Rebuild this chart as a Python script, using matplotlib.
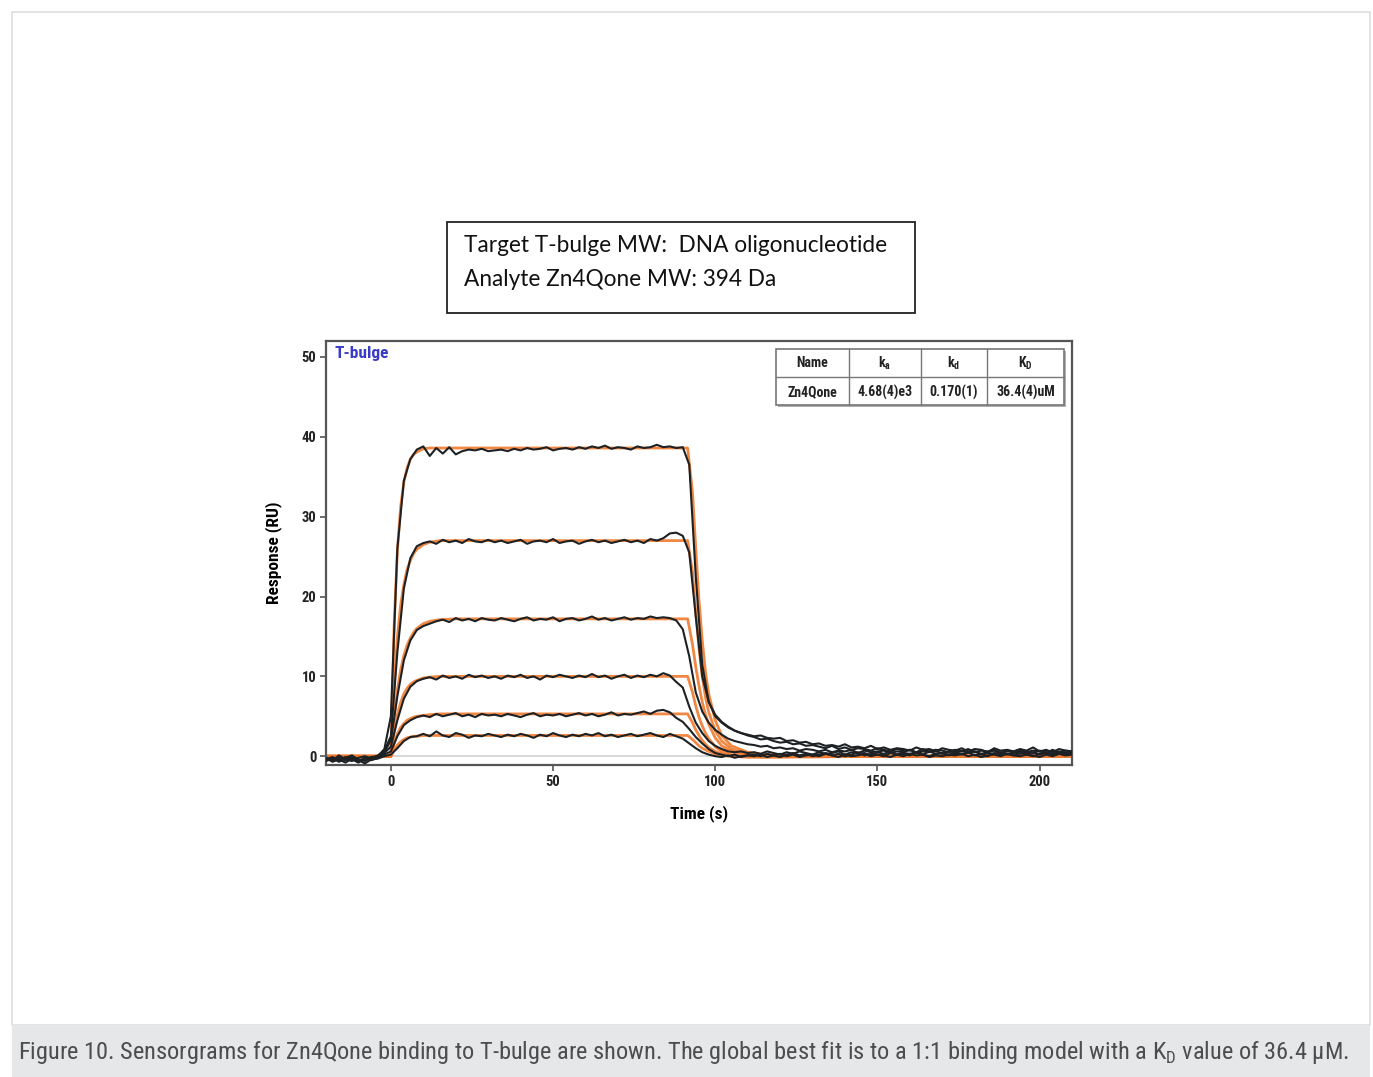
import numpy as np
import matplotlib
matplotlib.use("Agg")
import matplotlib.pyplot as plt
from matplotlib.patches import Rectangle
from matplotlib import font_manager

W, H = 1373, 1077

# sensorgram data, sampled every 2 s from -20 s to 210 s
t_obs = np.arange(-20, 211, 2)

resp_1 = ([-0.4, -0.1, -0.6, -0.2, 0.1, -0.5, -0.3, -0.1, 0.0, 0.9]
          + [5.0, 26.0, 34.5, 37.2, 38.4]
          + [38.8, 37.6, 38.6, 37.9, 38.7, 37.8, 38.2, 38.4, 38.3, 38.5, 38.2]
          + [38.3, 38.4, 38.2, 38.5, 38.3, 38.6, 38.4, 38.5, 38.7, 38.3,
             38.5, 38.6, 38.4, 38.7, 38.5, 38.8, 38.6, 38.9, 38.5, 38.7,
             38.6, 38.4, 38.8, 38.6, 38.7, 39.0, 38.7, 38.8, 38.6, 38.7]
          + [36.5, 22.5, 11.5, 6.8, 5.0, 4.2, 3.6, 3.2, 2.9, 2.7]
          + [2.5, 2.6, 2.3, 2.2, 2.3, 1.9, 2.0, 1.7, 1.8, 1.5,
             1.6, 1.3, 1.4, 1.2, 1.5, 1.1, 1.2, 1.0, 1.3, 0.9,
             1.1, 0.8, 1.0, 0.9, 0.7, 1.1, 0.8, 0.9, 0.6, 1.0,
             0.8, 0.7, 1.0, 0.6, 0.9, 0.8, 0.5, 1.0, 0.7, 0.8,
             0.6, 0.9, 0.7, 1.1, 0.6, 0.8, 0.5, 0.9, 0.7, 0.6])

resp_2 = ([-0.2, -0.5, 0.1, -0.4, -0.6, -0.2, 0.0, -0.3, 0.1, 0.7]
          + [2.5, 13.0, 21.0, 24.8, 26.3]
          + [26.7, 26.9, 26.6, 27.1, 26.8, 27.0, 26.7, 27.2, 26.9, 26.8, 27.1]
          + [26.8, 27.0, 26.7, 26.9, 27.1, 26.6, 26.9, 27.0, 26.8, 27.2,
             26.7, 26.9, 27.0, 26.6, 26.9, 27.1, 26.8, 27.0, 26.7, 26.9,
             27.1, 26.8, 27.0, 26.7, 27.2, 27.0, 27.3, 27.9, 28.0, 27.6]
          + [25.5, 17.5, 10.0, 6.8, 5.2, 4.3, 3.7, 3.2, 2.9, 2.6]
          + [2.4, 2.1, 2.2, 1.9, 1.7, 1.8, 1.5, 1.6, 1.3, 1.4,
             1.2, 1.0, 1.3, 0.9, 1.1, 0.8, 1.0, 0.9, 0.7, 1.0,
             0.8, 0.6, 0.9, 0.7, 0.8, 0.5, 0.9, 0.6, 0.8, 0.7,
             0.5, 0.8, 0.6, 0.9, 0.5, 0.7, 0.6, 0.8, 0.4, 0.7,
             0.6, 0.8, 0.5, 0.7, 0.6, 0.4, 0.8, 0.5, 0.7, 0.6])

resp_3 = ([-0.5, -0.2, -0.7, -0.3, 0.0, -0.4, -0.6, -0.2, -0.1, 0.5]
          + [2.0, 7.5, 12.0, 14.5, 15.8]
          + [16.3, 16.6, 16.9, 17.1, 16.8, 17.3, 17.0, 17.2, 16.9, 17.3, 17.1]
          + [17.0, 17.3, 17.1, 16.9, 17.2, 17.4, 17.0, 17.2, 17.1, 17.4,
             16.9, 17.2, 17.3, 17.0, 17.2, 17.5, 17.1, 17.3, 17.0, 17.2,
             17.4, 17.1, 17.3, 17.2, 17.5, 17.3, 17.4, 17.3, 17.0, 15.9]
          + [12.5, 8.0, 5.6, 4.2, 3.3, 2.7, 2.2, 1.9, 1.7, 1.5]
          + [1.4, 1.2, 1.3, 1.0, 1.1, 0.9, 1.0, 0.7, 0.9, 0.8,
             0.6, 0.8, 0.5, 0.7, 0.6, 0.8, 0.4, 0.7, 0.5, 0.6,
             0.7, 0.4, 0.6, 0.5, 0.8, 0.4, 0.6, 0.5, 0.7, 0.3,
             0.6, 0.5, 0.7, 0.4, 0.6, 0.3, 0.5, 0.7, 0.4, 0.6,
             0.5, 0.3, 0.6, 0.4, 0.7, 0.5, 0.3, 0.6, 0.4, 0.5])

resp_4 = ([-0.3, -0.6, -0.2, -0.5, -0.1, -0.7, -0.3, -0.4, 0.0, 0.4]
          + [1.2, 4.5, 7.2, 8.7, 9.4]
          + [9.7, 9.9, 9.6, 10.1, 9.8, 10.0, 9.7, 10.2, 9.9, 10.1, 9.8]
          + [10.0, 9.7, 10.1, 9.9, 10.2, 9.8, 10.0, 9.6, 10.1, 9.9,
             10.2, 10.0, 9.8, 10.1, 9.9, 10.3, 9.9, 10.1, 9.7, 10.0,
             10.2, 9.8, 10.1, 9.9, 10.2, 10.0, 10.4, 10.1, 9.3, 8.6]
          + [6.2, 4.2, 2.9, 1.9, 1.3, 0.9, 0.6, 0.5, 0.6, 0.4]
          + [0.5, 0.3, 0.6, 0.4, 0.2, 0.5, 0.3, 0.6, 0.4, 0.2,
             0.5, 0.3, 0.4, 0.6, 0.2, 0.5, 0.3, 0.4, 0.1, 0.5,
             0.3, 0.6, 0.2, 0.4, 0.3, 0.5, 0.2, 0.6, 0.3, 0.4,
             0.2, 0.5, 0.3, 0.4, 0.6, 0.2, 0.4, 0.3, 0.5, 0.2,
             0.4, 0.6, 0.3, 0.5, 0.2, 0.4, 0.3, 0.5, 0.2, 0.4])

resp_5 = ([-0.6, -0.3, -0.5, -0.1, -0.4, -0.8, -0.2, -0.5, -0.2, 0.2]
          + [0.6, 2.5, 3.9, 4.5, 4.9]
          + [5.1, 4.9, 5.3, 5.0, 5.2, 5.4, 5.0, 5.2, 4.9, 5.3, 5.1]
          + [5.2, 5.0, 5.3, 5.1, 4.9, 5.2, 5.4, 5.0, 5.2, 5.1,
             5.3, 5.0, 5.2, 5.4, 5.1, 5.3, 5.0, 5.2, 5.5, 5.1,
             5.3, 5.2, 5.4, 5.6, 5.3, 5.7, 5.8, 5.5, 4.8, 4.3]
          + [3.4, 2.4, 1.6, 0.9, 0.4, 0.2, 0.0, 0.2, -0.1, 0.1]
          + [0.2, 0.0, 0.3, 0.1, -0.1, 0.2, 0.4, 0.1, 0.3, 0.0,
             0.2, 0.4, 0.1, 0.3, 0.0, 0.2, 0.5, 0.1, 0.3, 0.2,
             0.0, 0.4, 0.2, 0.3, 0.1, 0.5, 0.2, 0.0, 0.3, 0.4,
             0.1, 0.3, 0.2, 0.5, 0.1, 0.3, 0.0, 0.4, 0.2, 0.3,
             0.1, 0.4, 0.2, 0.0, 0.3, 0.5, 0.1, 0.3, 0.2, 0.4])

resp_6 = ([-0.2, -0.7, -0.4, -0.8, -0.3, -0.5, -0.9, -0.4, -0.3, 0.0]
          + [0.2, 1.0, 1.9, 2.4, 2.5]
          + [2.8, 2.5, 3.1, 2.6, 2.4, 2.9, 2.7, 2.3, 2.6, 2.5, 2.8]
          + [2.6, 2.4, 2.7, 2.5, 2.8, 2.6, 2.3, 2.7, 2.5, 2.9,
             2.6, 2.4, 2.7, 2.5, 2.8, 2.6, 2.9, 2.5, 2.7, 2.4,
             2.6, 2.8, 2.5, 2.7, 2.9, 2.6, 2.4, 2.8, 2.5, 2.2]
          + [1.6, 1.0, 0.5, 0.2, 0.0, -0.1, 0.1, -0.2, 0.0, 0.1]
          + [0.0, 0.2, -0.1, 0.1, 0.3, 0.0, 0.2, -0.1, 0.1, 0.2,
             0.0, 0.3, 0.1, -0.1, 0.2, 0.0, 0.1, 0.3, 0.0, 0.2,
             0.1, -0.1, 0.2, 0.0, 0.3, 0.1, 0.2, -0.1, 0.1, 0.0,
             0.2, 0.1, 0.3, 0.0, 0.2, -0.1, 0.1, 0.2, 0.0, 0.3,
             0.1, 0.0, 0.2, 0.1, -0.1, 0.2, 0.0, 0.3, 0.1, 0.2])

# 1:1 global fit curves
t_fit = [-20, 0, 1, 2, 3, 4, 5, 6, 7, 8, 10, 12, 15, 20, 30,
         91.5, 93, 94, 95, 96, 97, 98, 100, 102, 105, 110, 115, 120, 130, 150, 210]
fit_1 = [0, 0, 16.3, 25.7, 31.2, 34.3, 36.1, 37.2, 37.8, 38.1, 38.5, 38.6, 38.6, 38.6, 38.6,
         38.6, 33.0, 26.0, 19.5, 14.5, 10.5, 7.8, 4.5, 2.6, 1.3, 0.5, 0.2, 0.1, 0.0, 0.0, 0.0]
fit_2 = [0, 0, 8.9, 14.9, 18.9, 21.5, 23.4, 24.5, 25.4, 25.9, 26.5, 26.8, 27.0, 27.0, 27.0,
         27.0, 23.0, 18.0, 13.5, 10.0, 7.4, 5.5, 3.2, 1.9, 0.9, 0.3, 0.1, 0.0, 0.0, 0.0, 0.0]
fit_3 = [0, 0, 4.8, 8.3, 10.8, 12.6, 13.9, 14.8, 15.5, 16.0, 16.6, 16.9, 17.1, 17.2, 17.2,
         17.2, 14.0, 11.2, 8.8, 6.8, 5.2, 4.0, 2.3, 1.3, 0.6, 0.2, 0.1, 0.0, 0.0, 0.0, 0.0]
fit_4 = [0, 0, 3.0, 5.2, 6.7, 7.8, 8.5, 9.0, 9.3, 9.5, 9.8, 9.9, 10.0, 10.0, 10.0,
         10.0, 8.0, 6.3, 4.9, 3.8, 2.9, 2.2, 1.2, 0.6, 0.2, 0.0, -0.1, -0.1, -0.1, 0.0, 0.0]
fit_5 = [0, 0, 1.6, 2.8, 3.6, 4.1, 4.5, 4.7, 4.9, 5.0, 5.1, 5.2, 5.3, 5.3, 5.3,
         5.3, 4.2, 3.3, 2.6, 2.0, 1.5, 1.1, 0.6, 0.3, 0.0, -0.1, -0.1, -0.1, 0.0, 0.0, 0.0]
fit_6 = [0, 0, 0.8, 1.4, 1.8, 2.1, 2.3, 2.4, 2.5, 2.5, 2.6, 2.6, 2.6, 2.6, 2.6,
         2.6, 2.1, 1.7, 1.3, 1.0, 0.8, 0.6, 0.3, 0.1, 0.0, -0.1, -0.1, 0.0, 0.0, 0.0, 0.0]

observed = [resp_1, resp_2, resp_3, resp_4, resp_5, resp_6]
fitted = [fit_1, fit_2, fit_3, fit_4, fit_5, fit_6]

table_head = ["Name", "k$_\\mathregular{a}$", "k$_\\mathregular{d}$", "K$_\\mathregular{D}$"]
table_vals = ["Zn4Qone", "4.68(4)e3", "0.170(1)", "36.4(4)uM"]

caption = ("Figure 10. Sensorgrams for Zn4Qone binding to T-bulge are shown. The global best fit is "
           "to a 1:1 binding model with a K$_\\mathregular{D}$ value of 36.4 \u00b5M.")

installed = {f.name for f in font_manager.fontManager.ttflist}
narrow = next((n for n in ["Liberation Sans Narrow", "Roboto Condensed", "Open Sans Condensed"]
               if n in installed), "Liberation Sans")


def fx(x):
    return x / W


def fy(y):
    return 1 - y / H


fig = plt.figure(figsize=(W / 100, H / 100), dpi=100)

# outer panel and caption band
fig.add_artist(Rectangle((fx(12), fy(1025)), fx(1358), 1013 / H, transform=fig.transFigure,
                         facecolor="white", edgecolor="#dedede", lw=1.2, zorder=-10))
fig.add_artist(Rectangle((fx(12), 0), fx(1358), 52 / H, transform=fig.transFigure,
                         facecolor="#e6e7e9", edgecolor="none", zorder=-10))
fig.text(fx(18), fy(1053), caption, fontsize=17.6, color="#4d4d4d", family=narrow,
         va="center", ha="left")

# header box
fig.add_artist(Rectangle((fx(447), fy(313)), fx(468), 91 / H, transform=fig.transFigure,
                         facecolor="white", edgecolor="#222222", lw=1.3, zorder=-5))
fig.text(fx(464), fy(246), "Target T-bulge MW:  DNA oligonucleotide", fontsize=16.3,
         family="Lato", color="#111111", va="center")
fig.text(fx(464), fy(280), "Analyte Zn4Qone MW: 394 Da", fontsize=16.3,
         family="Lato", color="#111111", va="center")

ax = fig.add_axes([fx(326), fy(765), fx(1072 - 326), (765 - 341) / H])
ax.axhline(0, color="#cfcfcf", lw=1.2, zorder=1)
for f in fitted:
    ax.plot(t_fit, f, color="#ef7a2e", lw=2.0, alpha=0.9, zorder=2)
for r in observed:
    ax.plot(t_obs, r, color="#1e2124", lw=1.5, zorder=3)

ax.set_xlim(-20, 210)
ax.set_ylim(-1.1, 52)
ax.set_xticks([0, 50, 100, 150, 200])
ax.set_yticks([0, 10, 20, 30, 40, 50])
ax.tick_params(direction="out", length=4, width=1.2, color="#555555", labelsize=10.5,
               labelcolor="#222222", pad=3)
for lab in ax.get_xticklabels() + ax.get_yticklabels():
    lab.set_family(narrow)
    lab.set_fontweight("bold")
for s in ax.spines.values():
    s.set_color("#555555")
    s.set_linewidth(1.6)

ax.set_xlabel("Time (s)", fontsize=12.5, fontweight="bold", family=narrow, labelpad=12)
ax.set_ylabel("Response (RU)", fontsize=12.5, fontweight="bold", family=narrow, labelpad=14)
ax.text(0.012, 0.988, "T-bulge", transform=ax.transAxes, fontsize=12.5, fontweight="bold",
        family=narrow, color="#3a3ac8", va="top", ha="left")

# results table
cols = [776, 849, 921, 987, 1064]
fig.add_artist(Rectangle((fx(778), fy(407)), fx(1064 - 776), 56 / H, transform=fig.transFigure,
                         facecolor="#b0b0b0", edgecolor="none", zorder=4))
fig.add_artist(Rectangle((fx(776), fy(405)), fx(1064 - 776), 56 / H, transform=fig.transFigure,
                         facecolor="white", edgecolor="#777777", lw=1.2, zorder=5))
for c in cols[1:-1]:
    fig.add_artist(plt.Line2D([fx(c), fx(c)], [fy(349), fy(405)], transform=fig.transFigure,
                              color="#777777", lw=1.0, zorder=6))
fig.add_artist(plt.Line2D([fx(776), fx(1064)], [fy(377), fy(377)], transform=fig.transFigure,
                          color="#777777", lw=1.0, zorder=6))
for i in range(4):
    cx = fx((cols[i] + cols[i + 1]) / 2)
    fig.text(cx, fy(363), table_head[i], ha="center", va="center", fontsize=10,
             family=narrow, fontweight="bold", color="#222222", zorder=7)
    fig.text(cx, fy(392), table_vals[i], ha="center", va="center", fontsize=10,
             family=narrow, fontweight="bold", color="#222222", zorder=7)

fig.savefig("out.png", dpi=100)
